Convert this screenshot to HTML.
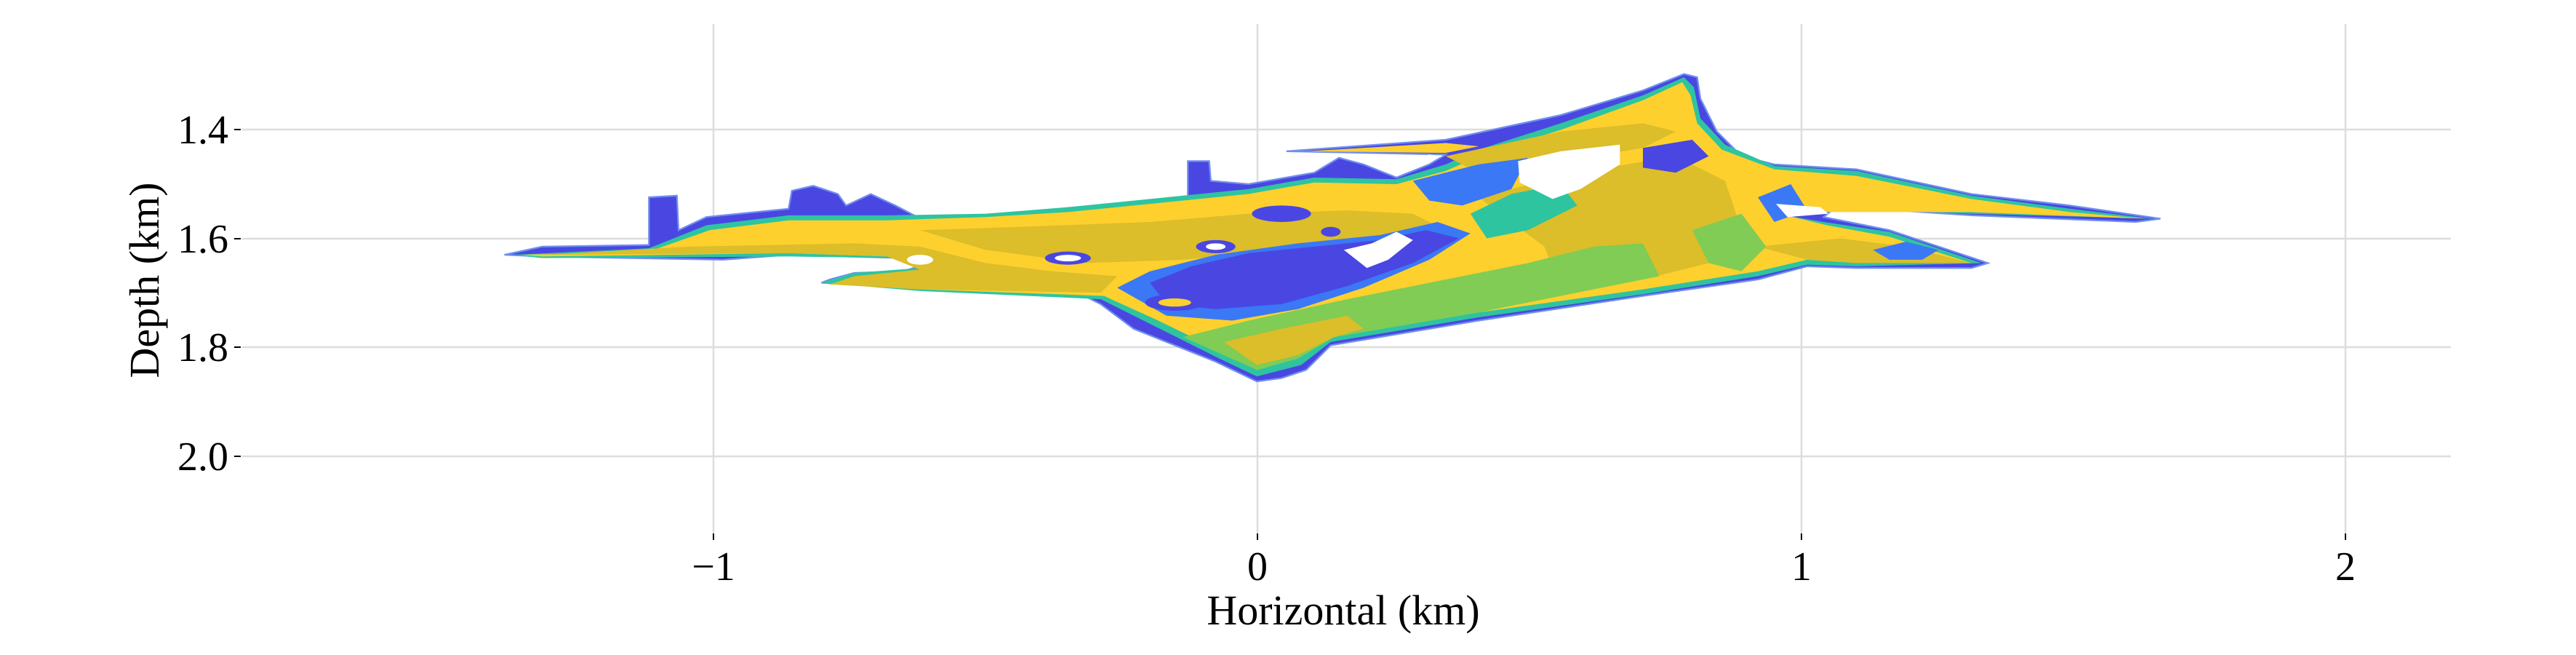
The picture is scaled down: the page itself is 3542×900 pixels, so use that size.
<!DOCTYPE html>
<html><head><meta charset="utf-8"><style>
html,body{margin:0;padding:0;background:#fff;}
svg{display:block;}
text{font-family:"Liberation Serif",serif;fill:#000;}
</style></head><body>
<svg width="3542" height="900" viewBox="0 0 3542 900" xmlns="http://www.w3.org/2000/svg">
<g stroke="#dddddd" stroke-width="2.5">
<line x1="333" y1="178" x2="3370" y2="178"/>
<line x1="333" y1="328" x2="3370" y2="328"/>
<line x1="333" y1="477" x2="3370" y2="477"/>
<line x1="333" y1="627" x2="3370" y2="627"/>
<line x1="981" y1="33" x2="981" y2="735"/>
<line x1="1729" y1="33" x2="1729" y2="735"/>
<line x1="2477" y1="33" x2="2477" y2="735"/>
<line x1="3225" y1="33" x2="3225" y2="735"/>
</g>
<g stroke="#000" stroke-width="2">
<line x1="322" y1="178" x2="331" y2="178"/>
<line x1="322" y1="328" x2="331" y2="328"/>
<line x1="322" y1="477" x2="331" y2="477"/>
<line x1="322" y1="627" x2="331" y2="627"/>
<line x1="981" y1="733" x2="981" y2="742"/>
<line x1="1729" y1="733" x2="1729" y2="742"/>
<line x1="2477" y1="733" x2="2477" y2="742"/>
<line x1="3225" y1="733" x2="3225" y2="742"/>
</g>
<g font-size="56" text-anchor="end">
<text x="314" y="197">1.4</text>
<text x="314" y="347">1.6</text>
<text x="314" y="496">1.8</text>
<text x="314" y="646">2.0</text>
</g>
<g font-size="56" text-anchor="middle">
<text x="981" y="797">−1</text>
<text x="1729" y="797">0</text>
<text x="2477" y="797">1</text>
<text x="3225" y="797">2</text>
<text x="1847" y="858" font-size="58">Horizontal (km)</text>
</g>
<text font-size="58" text-anchor="middle" transform="translate(218,385) rotate(-90)">Depth (km)</text>

<g transform="scale(2.259)">
<polygon fill="#4a46e2" stroke="#6f8ff0" stroke-width="1" points="307,155 330,150 395,149 395,120 412,119 413,140 430,132 450,130 480,127 482,116 495,113 510,118 515,125 530,118 545,125 570,138 600,136 650,128 700,124 723,120 723,98 736,98 737,110 760,112 800,105 815,96 830,100 850,108 870,100 880,94 783,92 880,85 950,70 1000,55 1025,45 1033,47 1035,60 1045,80 1060,95 1080,100 1130,103 1200,118 1260,125 1315,133 1300,135 1200,131 1140,127 1115,128 1110,132 1150,140 1210,160 1200,163 1130,163 1100,162 1070,170 1000,180 900,195 810,210 795,225 780,230 765,232 740,220 690,200 670,185 660,180 600,178 500,172 505,170 520,166 550,165 565,160 550,157 480,155 440,158 330,156"/>
<polygon fill="#fdd02e" points="795,92 880,87 900,89 880,93"/>
<polygon fill="#2ec4a0" points="312,155 395,151 430,137 480,131 540,131 600,130 650,126 700,121 760,115 800,108 850,109 880,100 900,91 950,75 1000,58 1025,47 1031,53 1035,72 1050,88 1080,101 1130,104 1200,119 1260,127 1310,133 1200,130 1150,128 1110,128 1088,124 1080,130 1110,135 1150,141 1206,160 1130,162 1100,161 1070,168 1000,179 900,193 810,208 792,222 765,229 740,217 700,197 670,182 560,177 500,172 520,166 560,163 545,157 480,156 330,157"/>
<polygon fill="#fdd02e" points="318,155 395,153 432,140 480,134 540,134 600,132 650,129 700,124 760,118 800,111 850,112 880,104 905,93 950,79 1000,61 1024,50 1029,58 1033,75 1048,91 1080,103 1130,107 1200,121 1260,129 1305,133 1200,129 1150,129 1110,129 1090,126 1083,130 1112,137 1150,144 1200,160 1130,160 1100,158 1070,165 1000,176 900,190 812,205 790,218 765,225 742,213 705,195 672,180 560,176 505,173 522,168 560,164 540,156 480,154 330,156"/>
<polygon fill="#dcbd2a" points="330,155 420,150 520,148 560,150 600,160 640,165 680,168 670,178 560,176 505,173 520,168 560,164 540,156 480,154"/>
<polygon fill="#dcbd2a" points="560,140 620,138 700,135 760,130 820,128 860,130 880,140 840,150 780,152 720,158 660,160 600,152"/>
<polygon fill="#dcbd2a" points="900,120 960,105 1020,95 1050,110 1060,140 1040,160 1000,170 950,175 940,150"/>
<polygon fill="#dcbd2a" points="1070,150 1120,145 1160,150 1200,160 1130,160 1100,158"/>
<polygon fill="#dcbd2a" points="880,95 950,80 1000,75 1020,80 1000,90 940,100 900,105"/>
<polygon fill="#80cc55" points="720,205 760,195 820,182 880,170 930,160 970,150 1000,148 1010,168 950,180 900,190 812,205 790,218 765,225"/>
<polygon fill="#dcbd2a" points="745,208 780,200 820,192 830,200 812,205 790,216 765,222"/>
<polygon fill="#80cc55" points="1030,140 1060,130 1075,150 1060,165 1040,160"/>
<polygon fill="#3a78f5" points="680,175 700,165 740,155 790,148 840,143 875,135 895,142 870,158 830,175 790,188 750,195 710,192"/>
<polygon fill="#4a46e2" points="700,172 725,162 760,154 800,150 840,146 868,140 888,145 860,160 820,174 780,185 740,188 710,185"/>
<polygon fill="#2ec4a0" points="895,130 920,118 950,112 960,125 930,140 905,145"/>
<polygon fill="#3a78f5" points="860,110 900,100 930,96 920,115 890,125 870,122"/>
<polygon fill="#4a46e2" points="1000,90 1030,85 1040,95 1020,105 1000,102"/>
<polygon fill="#3a78f5" points="1070,120 1090,112 1100,128 1080,135"/>
<polygon fill="#3a78f5" points="1140,152 1160,147 1180,152 1170,158 1150,158"/>
<ellipse cx="650" cy="157" rx="14" ry="4" fill="#4a46e2"/>
<ellipse cx="715" cy="184" rx="18" ry="5" fill="#4a46e2"/>
<ellipse cx="715" cy="184" rx="10" ry="2.5" fill="#fdd02e"/>
<ellipse cx="780" cy="130" rx="18" ry="5" fill="#4a46e2"/>
<ellipse cx="740" cy="150" rx="12" ry="4" fill="#4a46e2"/>
<ellipse cx="740" cy="150" rx="6" ry="2" fill="#fff"/>
<ellipse cx="650" cy="157" rx="8" ry="2" fill="#fff"/>
<ellipse cx="810" cy="141" rx="6" ry="3" fill="#4a46e2"/>
<ellipse cx="560" cy="158" rx="8" ry="3" fill="#fff"/>
<polygon fill="#fff" points="818,152 835,148 850,141 860,146 845,158 832,163"/>
<polygon fill="#fff" points="924,98 950,92 986,88 986,100 962,115 945,121 925,111"/>
<polygon fill="#fff" points="840,99 870,94 878,95 865,100 850,106"/>
<polygon fill="#fff" points="1081,124 1108,126 1113,130 1088,132"/>
</g>
</svg>
</body></html>
